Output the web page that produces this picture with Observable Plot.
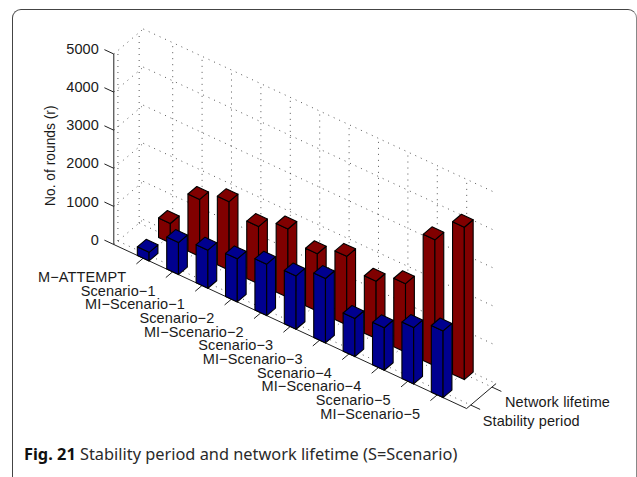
<!DOCTYPE html>
<html><head><meta charset="utf-8">
<script src="https://cdn.jsdelivr.net/npm/d3@7"></script>
<script src="https://cdn.jsdelivr.net/npm/@observablehq/plot@0.6"></script>
<style>
html,body{margin:0;padding:0;background:#fff;width:637px;height:477px;overflow:hidden}
#frame{position:absolute;left:12px;top:9px;width:625px;height:480px;box-sizing:border-box;border:1px solid #444;border-right-color:#888;border-radius:9px}
#chart{position:absolute;left:0;top:0}
#chart svg text{letter-spacing:.12px;font-family:"Liberation Sans",Arial,sans-serif}
#chart svg text[transform*="rotate"]{letter-spacing:0}
#caption{position:absolute;left:24px;top:443px;font:16.35px "Noto Sans",sans-serif;color:#2a2a2a;white-space:nowrap}
#caption b{font-weight:700;color:#111}
</style></head><body>
<div id="frame"></div>
<div id="chart"></div>
<div id="caption"><b>Fig. 21</b> Stability period and network lifetime (S=Scenario)</div>
<script>
const categories = ["M−ATTEMPT","Scenario−1","MI−Scenario−1","Scenario−2","MI−Scenario−2","Scenario−3","MI−Scenario−3","Scenario−4","MI−Scenario−4","Scenario−5","MI−Scenario−5"];
const stabilityPeriod = [225,840,1000,1130,1350,1400,1690,1000,1115,1480,1750];
const networkLifetime = [510,1500,1800,1505,1800,1510,1800,1505,1800,3310,4000];
const roundTicks = [0,1000,2000,3000,4000,5000];
const seriesNames = ["Stability period","Network lifetime"];
const seriesTicks = [0.14,0.86];

// oblique projection of (category position, series depth, rounds)
const depthX = 1.003, catY = 358.8, depthY = 656;
const px = (c,v) => c + depthX*v;
const py = (c,v,z) => z - catY*c + depthY*v;
const P = (c,v,z) => ({x:px(c,v), y:py(c,v,z)});
const cats = categories.map((_,i)=>i+1);
const cMax = 12, hw = 0.2, depth = 0.3;

function bars(values, v0){
  const out = [];
  values.forEach((z,i)=>{
    const c=i+1, a=c-hw, b=c+hw, v1=v0+depth;
    const face=(k,pts)=>pts.forEach(p=>out.push({...P(...p),id:i+k}));
    face("L",[[a,v0,0],[b,v0,0],[b,v0,z],[a,v0,z]]);
    face("R",[[b,v0,0],[b,v1,0],[b,v1,z],[b,v0,z]]);
    face("T",[[a,v0,z],[b,v0,z],[b,v1,z],[a,v1,z]]);
  });
  return out;
}
function seg(a,b){ const p=P(...a), q=P(...b); return {x1:p.x,y1:p.y,x2:q.x,y2:q.y}; }

const grid = [
  ...roundTicks.map(z=>seg([0,1,z],[cMax,1,z])),
  ...roundTicks.map(z=>seg([0,0,z],[0,1,z])),
  ...cats.map(c=>seg([c,1,0],[c,1,5000])),
  ...seriesTicks.map(v=>seg([0,v,0],[0,v,5000])),
  ...cats.map(c=>seg([c,0,0],[c,1,0])),
  ...seriesTicks.map(v=>seg([0,v,0],[cMax,v,0]))
];
const axes = [seg([0,0,0],[0,0,5000]), seg([0,0,0],[cMax,0,0]), seg([cMax,0,0],[cMax,1,0])];
const ticks = [
  ...roundTicks.map(z=>seg([0,0,z],[-0.32,0,z])),
  ...cats.map(c=>seg([c,0,0],[c,-0.23,0])),
  ...seriesTicks.map(v=>seg([cMax,v,0],[cMax+0.32,v,0]))
];
const lnk = {x1:"x1",y1:"y1",x2:"x2",y2:"y2"};
const polyOpts = (fill)=>({x:"x",y:"y",z:"id",fill,stroke:"#000",strokeWidth:1.1,curve:"linear-closed",strokeLinejoin:"round"});
const labelFont = {fontSize:14.5,fill:"#1a1a1a"};

const chart = Plot.plot({
  width:637,height:435,margin:0,
  x:{type:"linear",domain:[0,13],range:[113.3,113.3+13*29.4],axis:null},
  y:{type:"linear",domain:[0,5000],range:[244,53.5],axis:null},
  style:{background:"transparent"},
  marks:[
    Plot.link(grid,{...lnk,stroke:"#444",strokeWidth:.9,strokeDasharray:"1 5"}),
    Plot.link(axes,{...lnk,stroke:"#222",strokeWidth:1}),
    Plot.link(ticks,{...lnk,stroke:"#222",strokeWidth:1}),
    Plot.line(bars(networkLifetime,0.72),polyOpts("#800000")),
    Plot.line(bars(stabilityPeriod,0),polyOpts("#00008f")),
    Plot.text(roundTicks,{x:px(0,0),y:d=>d,text:d=>String(d),textAnchor:"end",dx:-14.8,dy:-4.5,...labelFont}),
    Plot.text(categories,{x:(d,i)=>px(i+1,0),y:(d,i)=>py(i+1,0,0),text:d=>d,textAnchor:"end",dx:-17,dy:19.3,...labelFont}),
    Plot.text([seriesNames[0]],{x:px(cMax,seriesTicks[0]),y:py(cMax,seriesTicks[0],0),text:d=>d,textAnchor:"start",dx:12,dy:16,...labelFont}),
    Plot.text([seriesNames[1]],{x:px(cMax,seriesTicks[1]),y:py(cMax,seriesTicks[1],0),text:d=>d,textAnchor:"start",dx:13,dy:15,...labelFont}),
    Plot.text(["No. of rounds (r)"],{x:px(0,0),y:2330,text:d=>d,rotate:-90,textAnchor:"middle",dx:-63,...labelFont,fontSize:13.8})
  ]
});
document.getElementById("chart").appendChild(chart);
</script>
</body></html>
